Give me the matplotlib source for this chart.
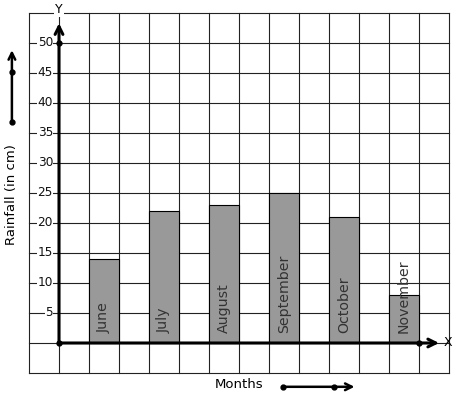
import matplotlib.pyplot as plt

months = ["June", "July", "August", "September", "October", "November"]
rainfall = [14, 22, 23, 25, 21, 8]
bar_pos = [1, 3, 5, 7, 9, 11]
y_ticks = [5, 10, 15, 20, 25, 30, 35, 40, 45, 50]

fig = plt.figure(figsize=(4.57, 3.99), dpi=100)
ax = fig.add_axes([0, 0, 1, 1])
ax.set_xlim(-59 / 30, 398 / 30)
ax.set_ylim(-56 / 6, 343 / 6)
ax.axis("off")

# grid
for u in range(-1, 14):
    ax.plot([u, u], [-5, 55], color="#222222", lw=0.8, zorder=1)
for v in range(-5, 56, 5):
    ax.plot([-1, 13], [v, v], color="#222222", lw=0.8, zorder=1)

# bars
ax.bar([p + 0.5 for p in bar_pos], rainfall, width=1, color="#999999",
       edgecolor="black", linewidth=0.8, zorder=2)
for p, m in zip(bar_pos, months):
    ax.text(p + 0.5, 1.6, m, rotation=90, ha="center", va="bottom",
            fontsize=10.2, color="#333333", zorder=3)

# tick labels
for t in y_ticks:
    ax.text(-0.2, t, str(t), ha="right", va="center", fontsize=8.7, zorder=3,
            color="#111111",
            bbox=dict(facecolor="white", edgecolor="none", pad=0.3))

# axes with arrows
ax.annotate("", xy=(12.67, 0), xytext=(0, 0), zorder=4,
            arrowprops=dict(arrowstyle="->", lw=2.2, color="black",
                            shrinkA=0, shrinkB=0, mutation_scale=14))
ax.annotate("", xy=(0, 53.3), xytext=(0, 0), zorder=4,
            arrowprops=dict(arrowstyle="->", lw=2.2, color="black",
                            shrinkA=0, shrinkB=0, mutation_scale=14))
ax.plot([0, 12, 0], [0, 0, 50], "o", color="black", ms=3.5, zorder=5)
ax.text(12.97, 0.1, "X", ha="center", va="center", fontsize=9, zorder=5)
ax.text(0, 55.6, "Y", ha="center", va="center", fontsize=9, zorder=5,
        bbox=dict(facecolor="white", edgecolor="none", pad=0.5))

# axis titles and side arrows
ax.text(-1.57, 24.8, "Rainfall (in cm)", rotation=90, ha="center",
        va="center", fontsize=9.5)
ax.annotate("", xy=(-1.57, 48.8), xytext=(-1.57, 36.8),
            arrowprops=dict(arrowstyle="->", lw=1.8, color="black",
                            shrinkA=0, shrinkB=0, mutation_scale=12))
ax.plot([-1.57, -1.57], [36.8, 45.2], "o", color="black", ms=3.5)

ax.text(6.0, -7.0, "Months", ha="center", va="center", fontsize=9.5)
ax.annotate("", xy=(9.85, -7.3), xytext=(7.47, -7.3),
            arrowprops=dict(arrowstyle="->", lw=1.8, color="black",
                            shrinkA=0, shrinkB=0, mutation_scale=12))
ax.plot([7.47, 9.17], [-7.3, -7.3], "o", color="black", ms=3.5)

fig.savefig("out.png", dpi=100)
